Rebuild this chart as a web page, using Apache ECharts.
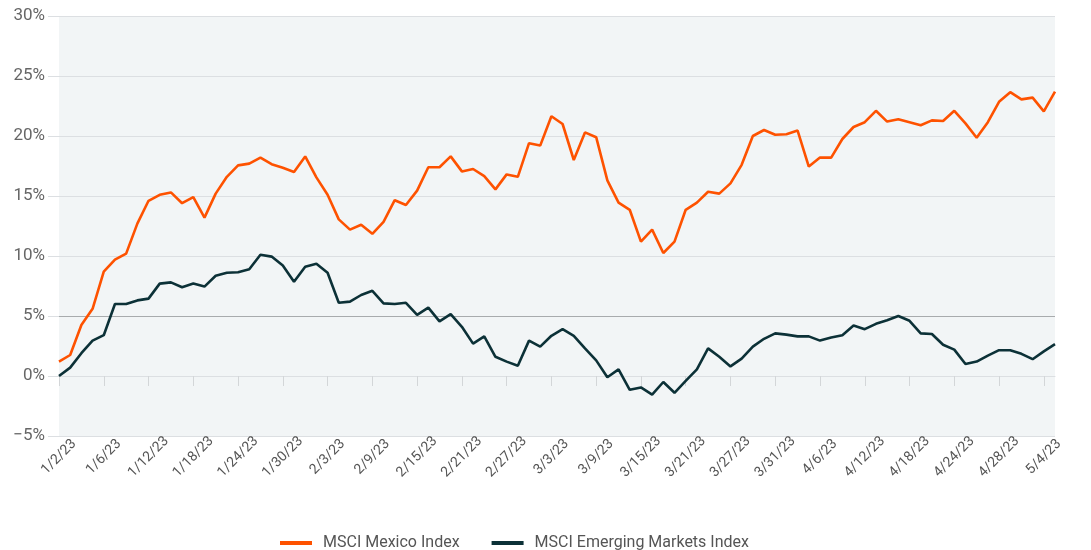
<!DOCTYPE html>
<html>
<head>
<meta charset="utf-8">
<script src="https://cdn.jsdelivr.net/npm/echarts@6/dist/echarts.min.js"></script>
<style>
    html, body { margin: 0; padding: 0; background: #fff; }
    #chart { width: 1091px; height: 550px; }
</style>
</head>
<body>
<div id="chart"></div>
<script>
    // trading days (weekdays) 1/2/23 - 5/5/23
    var dates = [
        '1/2/23', '1/3/23', '1/4/23', '1/5/23', '1/6/23',
        '1/9/23', '1/10/23', '1/11/23', '1/12/23', '1/13/23',
        '1/16/23', '1/17/23', '1/18/23', '1/19/23', '1/20/23',
        '1/23/23', '1/24/23', '1/25/23', '1/26/23', '1/27/23',
        '1/30/23', '1/31/23', '2/1/23', '2/2/23', '2/3/23',
        '2/6/23', '2/7/23', '2/8/23', '2/9/23', '2/10/23',
        '2/13/23', '2/14/23', '2/15/23', '2/16/23', '2/17/23',
        '2/20/23', '2/21/23', '2/22/23', '2/23/23', '2/24/23',
        '2/27/23', '2/28/23', '3/1/23', '3/2/23', '3/3/23',
        '3/6/23', '3/7/23', '3/8/23', '3/9/23', '3/10/23',
        '3/13/23', '3/14/23', '3/15/23', '3/16/23', '3/17/23',
        '3/20/23', '3/21/23', '3/22/23', '3/23/23', '3/24/23',
        '3/27/23', '3/28/23', '3/29/23', '3/30/23', '3/31/23',
        '4/3/23', '4/4/23', '4/5/23', '4/6/23', '4/7/23',
        '4/10/23', '4/11/23', '4/12/23', '4/13/23', '4/14/23',
        '4/17/23', '4/18/23', '4/19/23', '4/20/23', '4/21/23',
        '4/24/23', '4/25/23', '4/26/23', '4/27/23', '4/28/23',
        '5/1/23', '5/2/23', '5/3/23', '5/4/23', '5/5/23'
    ];

    // cumulative return, %
    var mexico = [
        1.2, 1.75, 4.25, 5.6, 8.7, 9.7, 10.2, 12.7, 14.6, 15.1,
        15.3, 14.4, 14.9, 13.2, 15.2, 16.6, 17.55, 17.7, 18.2, 17.65,
        17.35, 17.0, 18.3, 16.55, 15.1, 13.05, 12.2, 12.6, 11.85, 12.85,
        14.65, 14.25, 15.45, 17.4, 17.4, 18.3, 17.05, 17.25, 16.65, 15.55,
        16.8, 16.6, 19.4, 19.2, 21.65, 21.0, 18.0, 20.3, 19.9, 16.3,
        14.45, 13.85, 11.2, 12.2, 10.25, 11.2, 13.85, 14.45, 15.35, 15.2,
        16.05, 17.6, 20.0, 20.5, 20.1, 20.15, 20.45, 17.45, 18.2, 18.2,
        19.75, 20.75, 21.15, 22.1, 21.2, 21.4, 21.15, 20.9, 21.3, 21.25,
        22.1, 21.05, 19.85, 21.15, 22.85, 23.65, 23.05, 23.2, 22.05, 23.7
    ];

    var emerging = [
        0, 0.7, 1.9, 2.95, 3.4, 6.0, 6.0, 6.3, 6.45, 7.7,
        7.8, 7.4, 7.7, 7.45, 8.35, 8.6, 8.65, 8.9, 10.1, 9.95,
        9.2, 7.85, 9.1, 9.35, 8.6, 6.1, 6.2, 6.75, 7.1, 6.05,
        6.0, 6.1, 5.1, 5.7, 4.55, 5.15, 4.1, 2.7, 3.3, 1.6,
        1.2, 0.85, 2.95, 2.45, 3.35, 3.9, 3.35, 2.3, 1.3, -0.1,
        0.55, -1.15, -0.95, -1.55, -0.5, -1.4, -0.4, 0.55, 2.3, 1.6,
        0.8, 1.45, 2.45, 3.1, 3.55, 3.45, 3.3, 3.3, 2.95, 3.2,
        3.4, 4.2, 3.9, 4.35, 4.65, 5.0, 4.6, 3.55, 3.5, 2.6,
        2.2, 1.0, 1.2, 1.7, 2.15, 2.15, 1.85, 1.4, 2.05, 2.65
    ];

    var seriesNames = ['MSCI Mexico Index', 'MSCI Emerging Markets Index'];

    var chart = echarts.init(document.getElementById('chart'));
    var gridColor = '#dcdfe2';

    chart.setOption({
        animation: false,
        textStyle: { fontFamily: 'Roboto, sans-serif' },
        grid: {
            left: 59,
            right: 36,
            top: 16,
            bottom: 114,
            show: true,
            backgroundColor: '#f2f5f6',
            borderWidth: 0
        },
        legend: {
            data: seriesNames,
            top: 530,
            left: 275,
            icon: 'rect',
            itemWidth: 32,
            itemHeight: 4,
            itemGap: 32,
            textStyle: {
                color: '#555',
                fontSize: 16,
                padding: [0, 0, 0, 6]
            }
        },
        xAxis: {
            type: 'category',
            data: dates,
            boundaryGap: false,
            axisLine: { show: true, lineStyle: { color: gridColor } },
            axisTick: {
                show: true,
                interval: 3,
                length: 10,
                lineStyle: { color: '#d3d6d8' }
            },
            axisLabel: {
                interval: 3,
                rotate: 45,
                align: 'center',
                verticalAlign: 'middle',
                color: '#555',
                fontSize: 14,
                margin: 21
            }
        },
        yAxis: {
            type: 'value',
            min: -5,
            max: 30,
            interval: 5,
            axisLine: { show: false },
            axisTick: {
                show: true,
                length: 11,
                lineStyle: { color: gridColor }
            },
            axisLabel: {
                color: '#666',
                fontSize: 17,
                margin: 14,
                formatter: function (v) {
                    return (v < 0 ? '\u2212' + Math.abs(v) : v) + '%';
                }
            },
            splitLine: {
                show: true,
                lineStyle: {
                    color: [gridColor, gridColor, '#a8abad', gridColor, gridColor, gridColor, gridColor, gridColor],
                    width: 1
                }
            }
        },
        series: [
            {
                name: seriesNames[0],
                type: 'line',
                data: mexico,
                symbol: 'none',
                lineStyle: { color: '#fe5200', width: 2.6 },
                itemStyle: { color: '#fe5200' },
                z: 3
            },
            {
                name: seriesNames[1],
                type: 'line',
                data: emerging,
                symbol: 'none',
                lineStyle: { color: '#0c3137', width: 2.6 },
                itemStyle: { color: '#0c3137' },
                z: 2
            }
        ]
    });
</script>
</body>
</html>
